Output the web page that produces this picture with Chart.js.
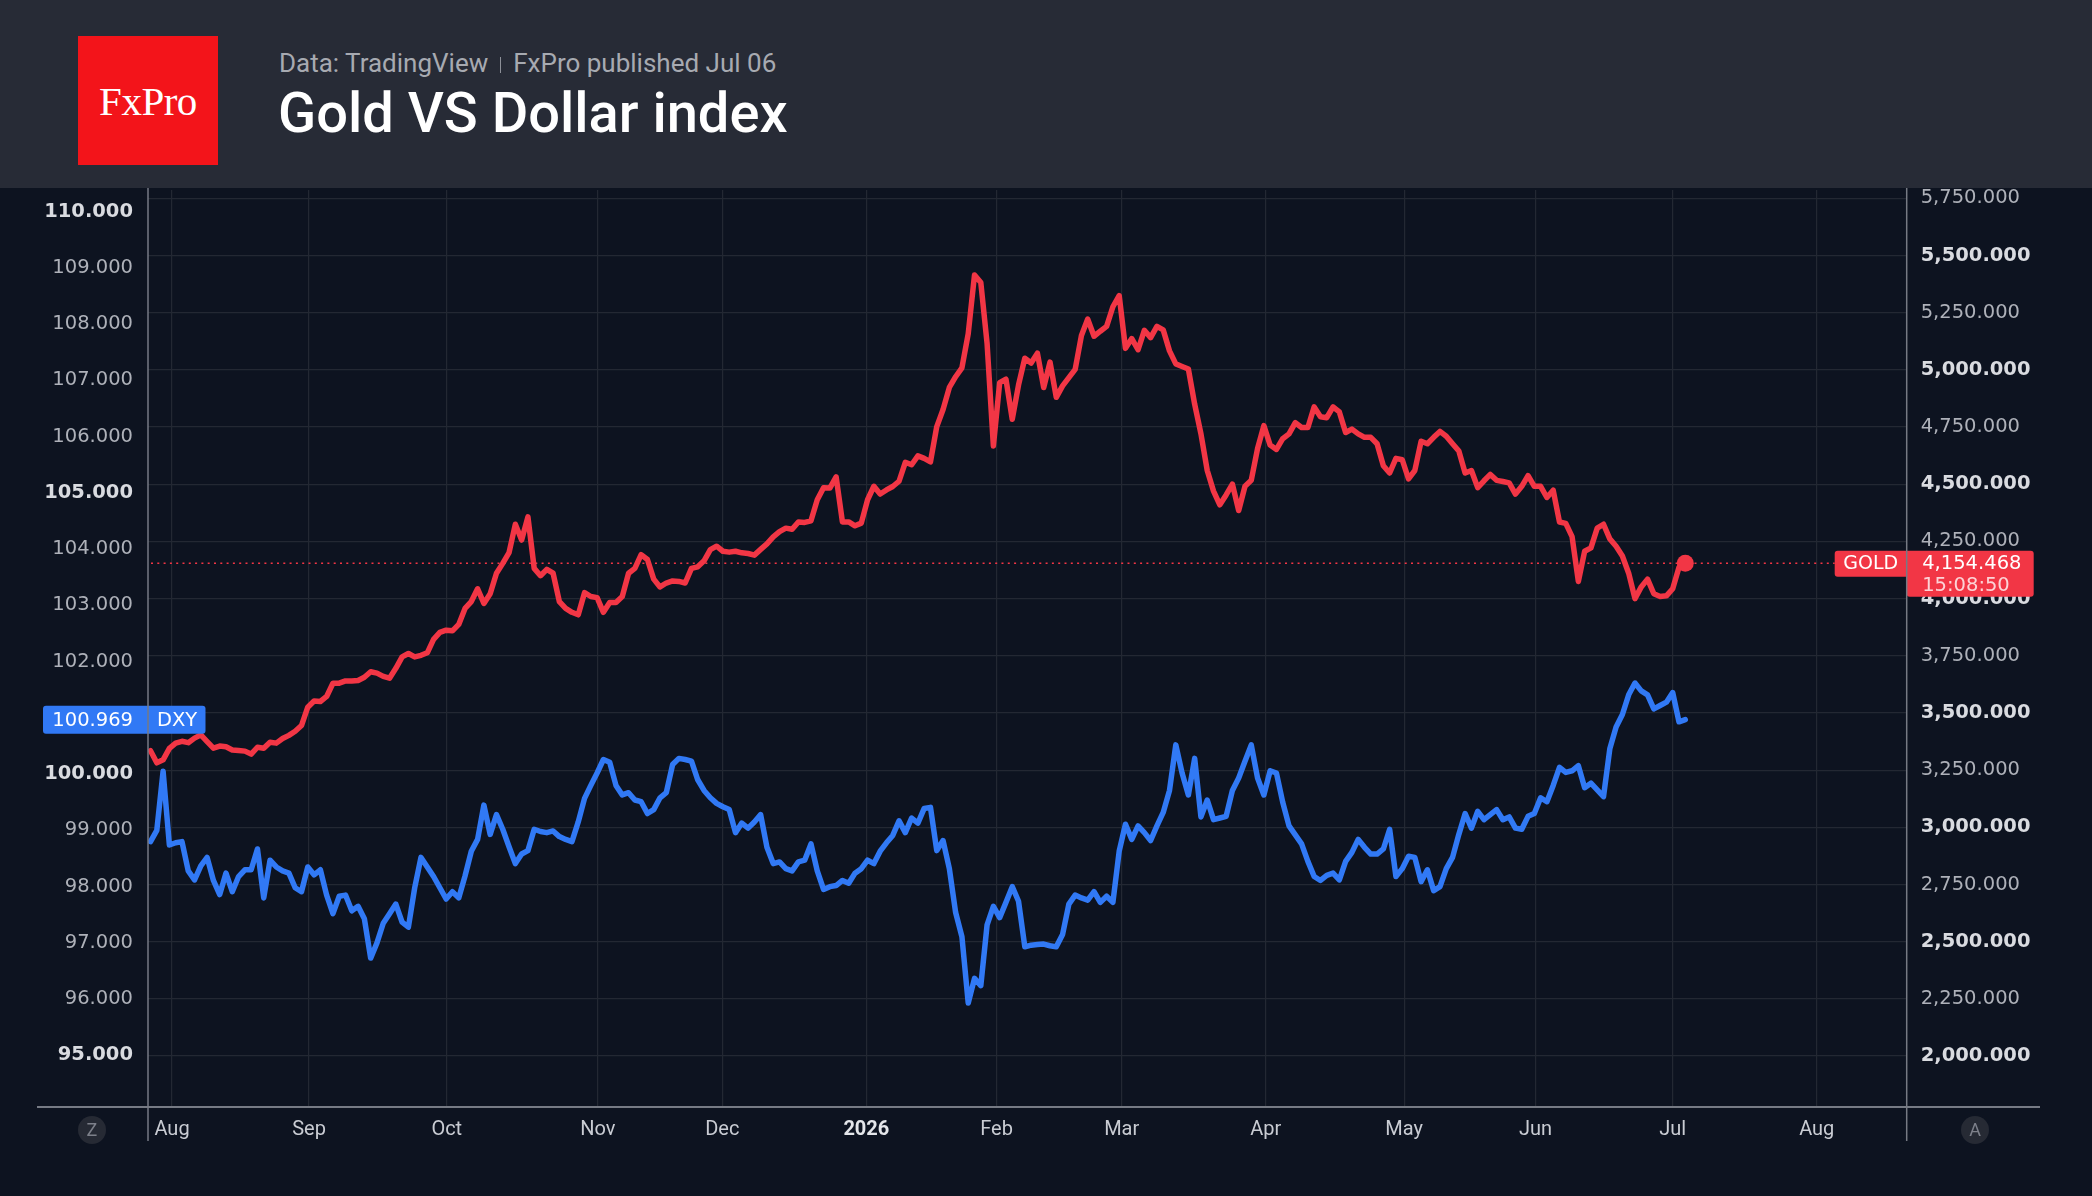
<!DOCTYPE html>
<html>
<head>
<meta charset="utf-8">
<title>Gold VS Dollar index</title>
<script src="https://cdn.jsdelivr.net/npm/chart.js@4.4.1/dist/chart.umd.min.js"></script>
<style>
  html, body { margin: 0; padding: 0; background: #0d1320; }
  body { width: 2092px; height: 1196px; position: relative; overflow: hidden; }
  #chart { position: absolute; left: 0; top: 0; }
  #header { position: absolute; left: 0; top: 0; width: 2092px; height: 188px; background: #272b36; z-index: 2; }
  #logo { position: absolute; left: 78px; top: 36px; width: 140px; height: 129px; background: #f3141a;
          display: flex; align-items: center; justify-content: center;
          font-family: 'Liberation Serif', serif; font-size: 41px; color: #fff; letter-spacing: -0.5px; }
  #sub { position: absolute; left: 279px; top: 50px; font-family: Roboto, sans-serif; font-size: 26px;
         line-height: 1; color: #a7aab1; white-space: nowrap; }
  #sub .sep { display: inline-block; width: 0; height: 16px; border-left: 1.5px solid #8d9098; margin: 0 12px 0 12px; vertical-align: -1px; }
  #title { position: absolute; left: 278px; top: 85px; font-family: Roboto, sans-serif; font-size: 56px; font-weight: 500;
           line-height: 1; color: #ffffff; white-space: nowrap; }
</style>
</head>
<body>
<div id="header">
  <div id="logo">FxPro</div>
  <div id="sub">Data: TradingView<span class="sep"></span>FxPro published Jul 06</div>
  <div id="title">Gold VS Dollar index</div>
</div>
<canvas id="chart" width="2092" height="1196"></canvas>
<script>
// ---------- data (one value per daily bar, Jul 2025 -> Jul 06 2026) ----------
const gold = [
  3335, 3282, 3295, 3345, 3368, 3376, 3370, 3390, 3404, 3375,
  3346, 3355, 3352, 3338, 3336, 3333, 3320, 3350, 3346, 3372,
  3368, 3388, 3402, 3420, 3445, 3525, 3552, 3550, 3572, 3630,
  3630, 3640, 3640, 3642, 3656, 3680, 3674, 3660, 3652, 3695,
  3745, 3760, 3745, 3752, 3763, 3822, 3852, 3862, 3859, 3887,
  3957, 3987, 4043, 3979, 4021, 4111, 4154, 4201, 4325, 4256,
  4357, 4132, 4100, 4128, 4111, 3987, 3957, 3940, 3929, 4026,
  4009, 4004, 3940, 3983, 3983, 4009, 4111, 4132, 4192, 4171,
  4085, 4051, 4068, 4077, 4075, 4068, 4132, 4139, 4165, 4214,
  4229, 4207, 4203, 4207, 4200, 4197, 4190, 4215, 4239, 4270,
  4293, 4308, 4303, 4335, 4333, 4340, 4432, 4485, 4483, 4532,
  4335, 4335, 4318, 4330, 4432, 4491, 4457, 4475, 4490, 4513,
  4596, 4585, 4624, 4613, 4598, 4752, 4827, 4923, 4970, 5009,
  5158, 5415, 5382, 5115, 4667, 4944, 4959, 4784, 4934, 5051,
  5030, 5073, 4923, 5034, 4880, 4930, 4966, 5002, 5150, 5222,
  5147, 5169, 5190, 5276, 5325, 5094, 5137, 5088, 5173, 5141,
  5190, 5175, 5083, 5026, 5015, 5004, 4850, 4720, 4560, 4470,
  4410, 4453, 4500, 4385, 4491, 4517, 4656, 4756, 4671, 4652,
  4699, 4720, 4769, 4748, 4748, 4838, 4795, 4791, 4838, 4816,
  4726, 4741, 4720, 4705, 4705, 4677, 4581, 4549, 4613, 4607,
  4523, 4560, 4688, 4677, 4705, 4731, 4710, 4677, 4645, 4549,
  4560, 4485, 4515, 4543, 4517, 4512, 4506, 4457, 4491, 4538,
  4491, 4491, 4442, 4474, 4335, 4329, 4271, 4075, 4207, 4222,
  4308, 4325, 4261, 4229, 4186, 4111, 4000, 4051, 4085, 4021,
  4009, 4012, 4043, 4137, 4154.468
];

const dxy = [
  98.80, 99.00, 100.05, 98.74, 98.78, 98.80, 98.28, 98.12, 98.37, 98.52,
  98.11, 97.86, 98.24, 97.91, 98.18, 98.30, 98.30, 98.67, 97.80, 98.47,
  98.35, 98.28, 98.24, 97.98, 97.91, 98.35, 98.21, 98.30, 97.85, 97.52,
  97.83, 97.85, 97.57, 97.65, 97.43, 96.73, 97.00, 97.35, 97.52, 97.69,
  97.37, 97.28, 97.98, 98.52, 98.35, 98.18, 97.98, 97.78, 97.91, 97.80,
  98.19, 98.63, 98.84, 99.45, 98.93, 99.28, 99.02, 98.71, 98.41, 98.58,
  98.64, 99.02, 98.98, 98.96, 98.99, 98.89, 98.84, 98.80, 99.15, 99.57,
  99.80, 100.02, 100.26, 100.21, 99.80, 99.63, 99.67, 99.54, 99.51, 99.30,
  99.37, 99.58, 99.67, 100.17, 100.28, 100.26, 100.23, 99.90, 99.71, 99.58,
  99.48, 99.42, 99.37, 98.96, 99.13, 99.04, 99.15, 99.28, 98.70, 98.41,
  98.44, 98.32, 98.28, 98.44, 98.47, 98.76, 98.28, 97.95, 98.00, 98.02,
  98.11, 98.06, 98.24, 98.32, 98.47, 98.41, 98.63, 98.78, 98.91, 99.17,
  98.96, 99.22, 99.13, 99.39, 99.41, 98.64, 98.82, 98.32, 97.54, 97.11,
  95.93, 96.37, 96.24, 97.32, 97.65, 97.45, 97.72, 98.00, 97.74, 96.93,
  96.96, 96.97, 96.98, 96.95, 96.93, 97.15, 97.69, 97.85, 97.80, 97.76,
  97.91, 97.72, 97.83, 97.72, 98.63, 99.11, 98.84, 99.08, 98.96, 98.82,
  99.08, 99.32, 99.71, 100.52, 100.02, 99.63, 100.28, 99.24, 99.54, 99.19,
  99.22, 99.25, 99.71, 99.93, 100.23, 100.52, 99.93, 99.63, 100.06, 100.02,
  99.50, 99.08, 98.92, 98.76, 98.45, 98.18, 98.11, 98.20, 98.24, 98.12,
  98.45, 98.61, 98.84, 98.70, 98.58, 98.58, 98.67, 99.02, 98.18, 98.32,
  98.54, 98.52, 98.09, 98.30, 97.93, 98.00, 98.32, 98.52, 98.93, 99.30,
  99.04, 99.34, 99.19, 99.28, 99.37, 99.19, 99.24, 99.04, 99.02, 99.25,
  99.30, 99.58, 99.51, 99.80, 100.12, 100.03, 100.06, 100.15, 99.76, 99.84,
  99.72, 99.60, 100.45, 100.84, 101.06, 101.41, 101.62, 101.48, 101.41, 101.16,
  101.22, 101.28, 101.45, 100.93, 100.969
];

// month starts, in bar units
const monthTicks  = [3.42, 25.2, 47.1, 71.1, 90.9, 113.8, 134.5, 154.4, 177.3, 199.3, 220.2, 242.0, 264.9];
const monthLabels = ['Aug', 'Sep', 'Oct', 'Nov', 'Dec', '2026', 'Feb', 'Mar', 'Apr', 'May', 'Jun', 'Jul', 'Aug'];

const dxyTicks  = [95, 96, 97, 98, 99, 100, 101, 102, 103, 104, 105, 106, 107, 108, 109, 110];
const goldTicks = [2000, 2250, 2500, 2750, 3000, 3250, 3500, 3750, 4000, 4250, 4500, 4750, 5000, 5250, 5500, 5750];

const lastTime = '15:08:50';

// ---------- style ----------
const RED = '#f23645';
const BLUE = '#3179f5';
const GRID = '#232833';
const AXIS = '#767a84';
const NUM_FONT = "'DejaVu Sans', Verdana, sans-serif";

function roundRect(ctx, x, y, w, h, r) {
    ctx.beginPath();
    ctx.roundRect(x, y, w, h, r);
    ctx.fill();
}

// bold every 5 units on DXY, every 500 on gold
const isMajor = (c, step) => !!(c.tick && c.tick.value % step === 0);

const overlay = {
    id: 'overlay',
    beforeDraw(chart) {
        const { ctx, width, height } = chart;
        ctx.save();
        ctx.fillStyle = '#0d1320';
        ctx.fillRect(0, 0, width, height);
        ctx.restore();
    },
    beforeDatasetsDraw(chart) {
        const { ctx, chartArea: a, scales } = chart;
        const gy = scales.yGold.getPixelForValue(gold[gold.length - 1]);
        ctx.save();
        ctx.strokeStyle = RED;
        ctx.lineWidth = 1.5;
        ctx.setLineDash([2, 4.3]);
        ctx.beginPath();
        ctx.moveTo(a.left + 3, gy);
        ctx.lineTo(a.right - 72, gy);
        ctx.stroke();
        ctx.restore();
    },
    afterDraw(chart) {
        const { ctx, chartArea: a, scales } = chart;
        ctx.save();

        // DXY badge on the left axis
        const dy = scales.yDxy.getPixelForValue(dxy[dxy.length - 1]);
        ctx.fillStyle = BLUE;
        roundRect(ctx, 43, dy - 14, a.left + 57.5 - 43, 28, 3);
        ctx.fillStyle = '#ffffff';
        ctx.font = '19.5px ' + NUM_FONT;
        ctx.textBaseline = 'middle';
        ctx.textAlign = 'right';
        ctx.fillText(dxy[dxy.length - 1].toFixed(3), a.left - 15, dy + 1);
        ctx.textAlign = 'left';
        ctx.fillText('DXY', a.left + 9, dy + 1);

        // GOLD badge + price box on the right axis
        const gv = gold[gold.length - 1];
        const gy = scales.yGold.getPixelForValue(gv);
        ctx.fillStyle = RED;
        roundRect(ctx, a.right - 72, gy - 12.5, 72, 26, [3, 0, 0, 3]);
        roundRect(ctx, a.right, gy - 12.5, 127, 46, [0, 3, 3, 3]);
        ctx.fillStyle = '#ffffff';
        ctx.font = '19px ' + NUM_FONT;
        ctx.textAlign = 'center';
        ctx.fillText('GOLD', a.right - 36, gy + 1);
        ctx.textAlign = 'left';
        ctx.font = '19.5px ' + NUM_FONT;
        ctx.fillText(gv.toLocaleString('en-US', { minimumFractionDigits: 3 }), a.right + 15.5, gy + 1);
        ctx.fillStyle = 'rgba(255,255,255,0.78)';
        ctx.fillText(lastTime, a.right + 15.5, gy + 23);

        // axis lines
        ctx.strokeStyle = AXIS;
        ctx.lineWidth = 1.5;
        ctx.beginPath();
        ctx.moveTo(a.left, 188); ctx.lineTo(a.left, 1141);
        ctx.moveTo(a.right, 188); ctx.lineTo(a.right, 1141);
        ctx.stroke();
        ctx.lineWidth = 2;
        ctx.beginPath();
        ctx.moveTo(37, a.bottom); ctx.lineTo(2040, a.bottom);
        ctx.stroke();

        // Z / A buttons
        [['Z', 92], ['A', 1975]].forEach(([t, x]) => {
            ctx.fillStyle = '#262a34';
            ctx.beginPath();
            ctx.arc(x, a.bottom + 23, 14, 0, Math.PI * 2);
            ctx.fill();
            ctx.fillStyle = '#7d808a';
            ctx.font = '18px Roboto, sans-serif';
            ctx.textAlign = 'center';
            ctx.textBaseline = 'middle';
            ctx.fillText(t, x, a.bottom + 24);
        });
        ctx.restore();
    }
};

const ctx = document.getElementById('chart');

new Chart(ctx, {
    type: 'line',
    data: {
        datasets: [
            {
                label: 'GOLD',
                data: gold.map((v, i) => ({ x: i, y: v })),
                yAxisID: 'yGold',
                borderColor: RED,
                backgroundColor: RED,
                borderWidth: 5.5,
                borderJoinStyle: 'round',
                borderCapStyle: 'round',
                tension: 0,
                pointRadius: c => c.dataIndex === gold.length - 1 ? 8.5 : 0,
                pointBorderWidth: 0,
                pointBackgroundColor: RED
            },
            {
                label: 'DXY',
                data: dxy.map((v, i) => ({ x: i, y: v })),
                yAxisID: 'yDxy',
                borderColor: BLUE,
                backgroundColor: BLUE,
                borderWidth: 5.5,
                borderJoinStyle: 'round',
                borderCapStyle: 'round',
                tension: 0,
                pointRadius: 0
            }
        ]
    },
    options: {
        responsive: false,
        animation: false,
        devicePixelRatio: 1,
        layout: { padding: { top: 190, left: 0, right: 0, bottom: 0 } },
        plugins: { legend: { display: false }, tooltip: { enabled: false } },
        scales: {
            x: {
                type: 'linear',
                min: -0.4,
                max: 279.2,
                afterBuildTicks: s => { s.ticks = monthTicks.map(v => ({ value: v })); },
                afterFit: s => { s.height = 89; },
                grid: { color: GRID, lineWidth: 1.2, drawTicks: false },
                border: { display: false },
                ticks: {
                    autoSkip: false,
                    maxRotation: 0,
                    padding: 11,
                    color: c => c.index === 5 ? '#e4e6ea' : '#c9ccd3',
                    font: c => ({ family: 'Roboto, sans-serif', size: 20, weight: c.index === 5 ? 'bold' : 'normal' }),
                    callback: (v, i) => monthLabels[i]
                }
            },
            yDxy: {
                position: 'left',
                min: 94.083,
                max: 110.384,
                afterBuildTicks: s => { s.ticks = dxyTicks.map(v => ({ value: v })); },
                afterFit: s => { s.width = 148; },
                grid: { display: false, drawTicks: false },
                border: { display: false },
                ticks: {
                    padding: 15,
                    color: c => isMajor(c, 5) ? '#d9dbe0' : '#aeb1b9',
                    font: c => ({ family: NUM_FONT, size: 19.5, weight: isMajor(c, 5) ? 'bold' : 'normal' }),
                    callback: v => v.toFixed(3)
                }
            },
            yGold: {
                position: 'right',
                min: 1777.1,
                max: 5786.4,
                afterBuildTicks: s => { s.ticks = goldTicks.map(v => ({ value: v })); },
                afterFit: s => { s.width = 185.3; },
                grid: { color: GRID, lineWidth: 1.2, drawTicks: false },
                border: { display: false },
                ticks: {
                    padding: 14,
                    color: c => isMajor(c, 500) ? '#d9dbe0' : '#aeb1b9',
                    font: c => ({ family: NUM_FONT, size: 19.5, weight: isMajor(c, 500) ? 'bold' : 'normal' }),
                    callback: v => v.toLocaleString('en-US', { minimumFractionDigits: 3 })
                }
            }
        }
    },
    plugins: [overlay]
});
</script>
</body>
</html>
